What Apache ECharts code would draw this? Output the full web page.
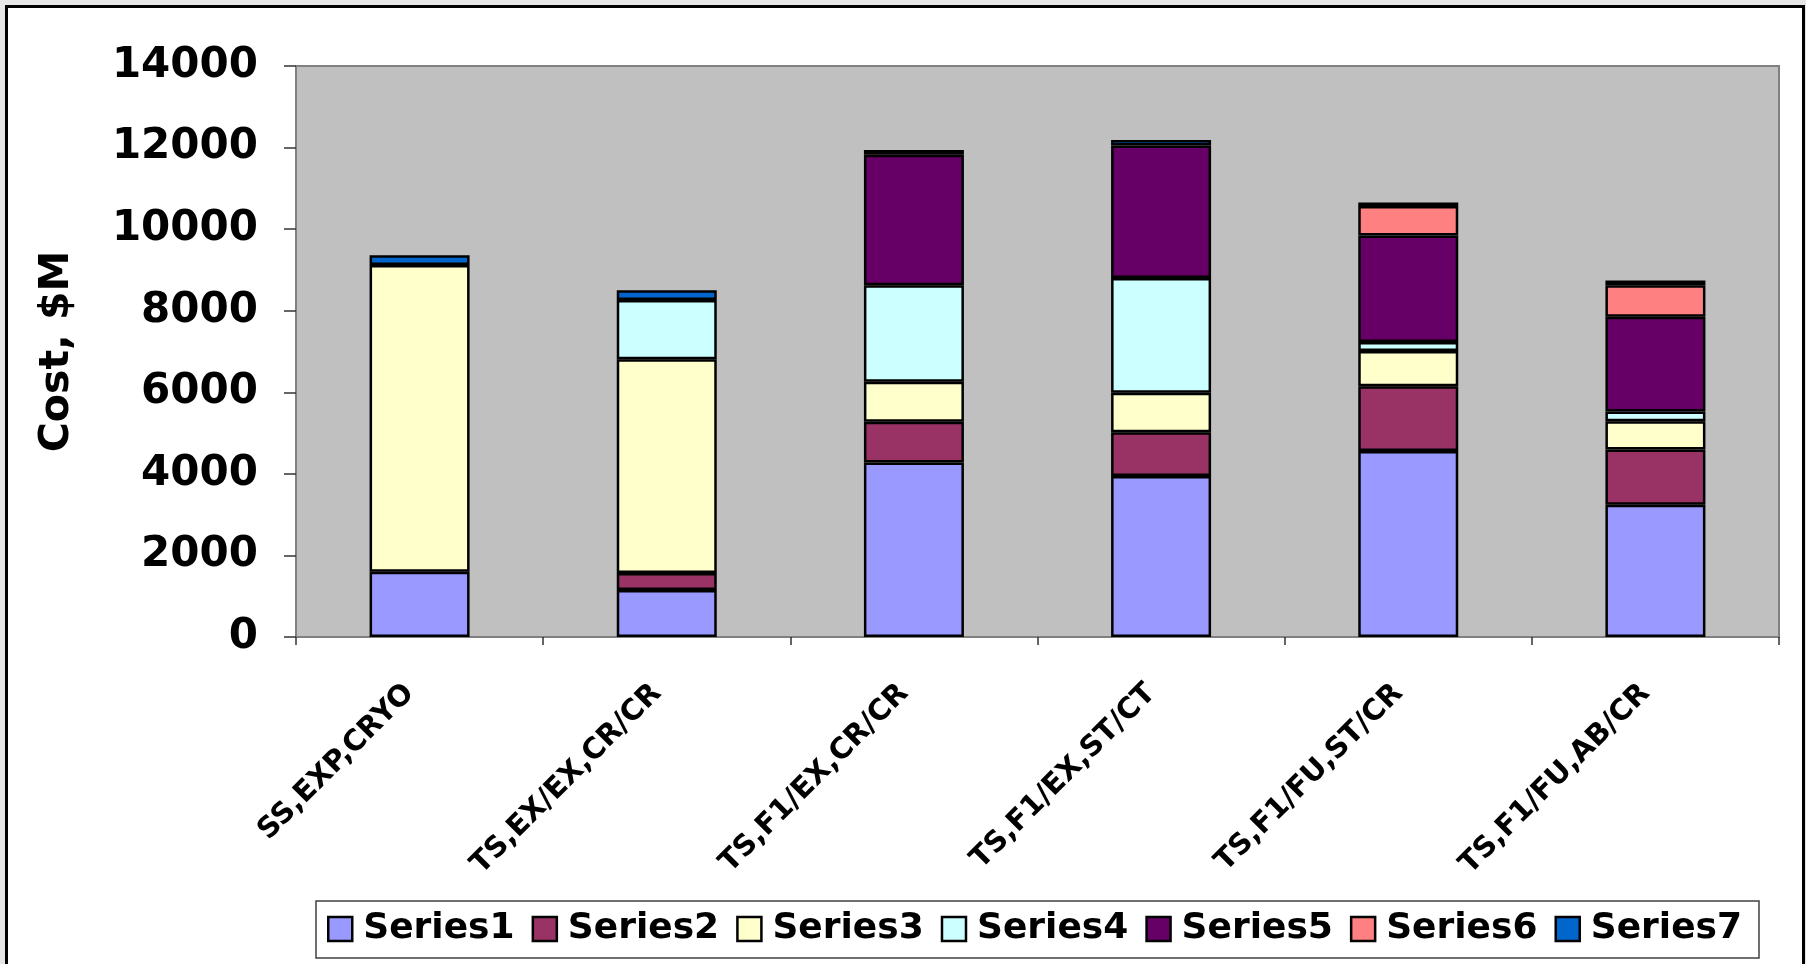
<!DOCTYPE html>
<html>
<head>
<meta charset="utf-8">
<script src="https://cdn.jsdelivr.net/npm/echarts@6/dist/echarts.min.js"></script>
<style>
  html, body { margin: 0; padding: 0; background: #e6e6e6; }
  #frame { position: absolute; left: 5px; top: 5px; width: 1794px; height: 990px; border: 3px solid #000; background: #fff; }
  #chart { position: absolute; left: 0; top: 0; width: 1806px; height: 964px; }
</style>
</head>
<body>
<div id="frame"></div>
<div id="chart"></div>
<script>
const categories = ['SS,EXP,CRYO', 'TS,EX/EX,CR/CR', 'TS,F1/EX,CR/CR', 'TS,F1/EX,ST/CT', 'TS,F1/FU,ST/CR', 'TS,F1/FU,AB/CR'];
const seriesNames = ['Series1', 'Series2', 'Series3', 'Series4', 'Series5', 'Series6', 'Series7'];
const series1 = [1600, 1150, 4280, 3950, 4560, 3240];
const series2 = [0, 420, 1000, 1070, 1590, 1360];
const series3 = [7520, 5240, 980, 970, 860, 690];
const series4 = [0, 1450, 2365, 2810, 225, 240];
const series5 = [0, 0, 3200, 3250, 2610, 2320];
const series6 = [0, 0, 0, 0, 720, 775];
const series7 = [240, 240, 115, 135, 90, 115];
const yTicks = [0, 2000, 4000, 6000, 8000, 10000, 12000, 14000];
const colors = ['#9999FF', '#993366', '#FFFFCC', '#CCFFFF', '#660066', '#FF8080', '#0066CC'];
const allValues = [series1, series2, series3, series4, series5, series6, series7];

const FONT = 'DejaVu Sans';
const chart = echarts.init(document.getElementById('chart'));
chart.setOption({
  backgroundColor: 'transparent',
  animation: false,
  grid: {
    left: 296, right: 27, top: 66, bottom: 327,
    show: true, backgroundColor: '#C0C0C0', borderColor: '#808080', borderWidth: 2
  },
  legend: {
    data: seriesNames,
    left: 327, top: 911,
    padding: 0,
    itemWidth: 24, itemHeight: 24, itemGap: 17,
    icon: 'rect',
    itemStyle: { borderColor: '#000', borderWidth: 2.5 },
    textStyle: { fontFamily: FONT, fontWeight: 'bold', fontSize: 36, color: '#000', padding: [0, 0, 0, 6] },
    selectedMode: false
  },
  graphic: [{
    type: 'rect', z: 0,
    shape: { x: 316, y: 901, width: 1443, height: 57 },
    style: { fill: '#fff', stroke: '#404040', lineWidth: 1.5 }
  }],
  xAxis: {
    type: 'category',
    data: categories,
    axisLine: { lineStyle: { color: '#808080', width: 2 } },
    axisTick: { show: true, length: 8, lineStyle: { color: '#333', width: 1.5 } },
    axisLabel: {
      rotate: 45, margin: 42, interval: 0,
      padding: [0, 14, 0, 0],
      fontFamily: FONT, fontWeight: 'bold', fontSize: 29, color: '#000'
    }
  },
  yAxis: {
    type: 'value',
    min: yTicks[0], max: yTicks[yTicks.length - 1], interval: 2000,
    name: 'Cost, $M',
    nameLocation: 'middle',
    nameGap: 218,
    nameTextStyle: { fontFamily: FONT, fontWeight: 'bold', fontSize: 41, color: '#000' },
    axisLine: { show: true, lineStyle: { color: '#808080', width: 2 } },
    axisTick: { show: true, length: 12, lineStyle: { color: '#333', width: 1.5 } },
    splitLine: { show: false },
    axisLabel: {
      margin: 38, fontFamily: FONT, fontWeight: 'bold', fontSize: 42, color: '#000',
      formatter: v => String(v)
    }
  },
  series: seriesNames.map((name, i) => ({
    name: name,
    type: 'bar',
    stack: 'total',
    barWidth: 100,
    data: allValues[i].map(v => (v === 0 ? '-' : v)),
    itemStyle: { color: colors[i], borderColor: '#000', borderWidth: 2.5 }
  }))
});
</script>
</body>
</html>
